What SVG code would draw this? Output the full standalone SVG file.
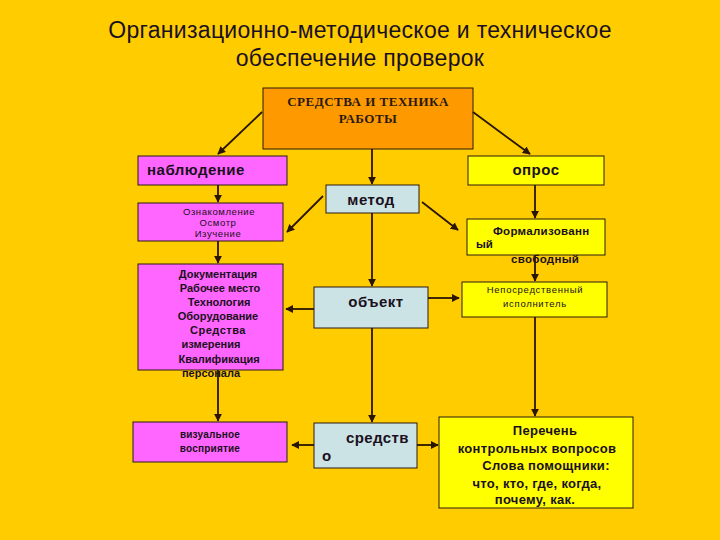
<svg xmlns="http://www.w3.org/2000/svg" width="720" height="540" viewBox="0 0 720 540">
<defs>
<marker id="ah" viewBox="0 0 10 10" refX="9" refY="5" markerWidth="8" markerHeight="8" orient="auto" markerUnits="userSpaceOnUse">
<path d="M0,0 L10,5 L0,10 z" fill="#2a1500"/>
</marker>
<style>
.bx{stroke:#2a1a10;stroke-width:1}
.or{fill:#FF9900}.mg{fill:#FF66FF}.ye{fill:#FFFF00}.bl{fill:#CCE3E6}
.t{font-family:"Liberation Sans",Arial,sans-serif;fill:#1a1020}
.b{font-weight:bold}
.c{text-anchor:middle}
.ser{font-family:"Liberation Serif","Times New Roman",serif;font-weight:bold;fill:#2a1a10}
.cn line{stroke:#2a1500;stroke-width:1.8;marker-end:url(#ah)}
</style>
</defs>
<rect width="720" height="540" fill="#FFCC00"/>
<g id="title">
<text class="t c" x="360" y="38" font-size="23" letter-spacing="0.3">Организационно-методическое и техническое</text>
<text class="t c" x="360" y="66" font-size="23" letter-spacing="0.3">обеспечение проверок</text>
</g>
<g id="top">
<rect class="bx or" x="263" y="88" width="210" height="61"/>
<text class="ser c" x="368" y="106" font-size="13" letter-spacing="0.5">СРЕДСТВА И ТЕХНИКА</text>
<text class="ser c" x="368" y="123" font-size="13" letter-spacing="0.5">РАБОТЫ</text>
</g>
<g id="nabl">
<rect class="bx mg" x="138" y="156" width="149" height="29"/>
<text class="t b" x="147" y="175" font-size="15" letter-spacing="0.5">наблюдение</text>
</g>
<g id="opros">
<rect class="bx ye" x="468" y="156" width="136" height="29"/>
<text class="t b c" x="536" y="175" font-size="15" letter-spacing="0.5">опрос</text>
</g>
<g id="metod">
<rect class="bx bl" x="326" y="185" width="93" height="28"/>
<text class="t b c" x="371" y="205" font-size="15" letter-spacing="0.5">метод</text>
</g>
<g id="oznak">
<rect class="bx mg" x="138" y="203" width="145" height="38"/>
<text class="t c" x="219" y="215" font-size="9.5" letter-spacing="0.6">Ознакомление</text>
<text class="t c" x="218" y="226" font-size="9.5" letter-spacing="0.6">Осмотр</text>
<text class="t c" x="218" y="237" font-size="9.5" letter-spacing="0.6">Изучение</text>
</g>
<g id="formal">
<rect class="bx ye" x="467" y="219" width="138" height="36"/>
<text class="t b" x="493" y="235" font-size="11.5" letter-spacing="0.3">Формализованн</text>
<text class="t b" x="476" y="248" font-size="11.5">ый</text>
<text class="t b" x="511" y="263" font-size="11.5" letter-spacing="0.3">свободный</text>
</g>
<g id="dokum">
<rect class="bx mg" x="138" y="264" width="145" height="106"/>
<text class="t b c" font-size="11" x="218" y="278">Документация</text>
<text class="t b c" font-size="11" x="220" y="292">Рабочее место</text>
<text class="t b c" font-size="11" x="219" y="306">Технология</text>
<text class="t b c" font-size="11" x="218" y="320">Оборудование</text>
<text class="t b c" font-size="11" x="218" y="334" letter-spacing="0.5">Средства</text>
<text class="t b c" font-size="11" x="211" y="348">измерения</text>
<text class="t b c" font-size="11" x="219" y="363">Квалификация</text>
<text class="t b c" font-size="11" x="211" y="377">персонала</text>
</g>
<g id="obekt">
<rect class="bx bl" x="314" y="287" width="114" height="41"/>
<text class="t b c" x="376" y="307" font-size="15" letter-spacing="0.5">объект</text>
</g>
<g id="neposr">
<rect class="bx ye" x="462" y="282" width="145" height="35"/>
<text class="t c" x="535" y="293" font-size="9.5" letter-spacing="0.7">Непосредственный</text>
<text class="t c" x="535" y="307" font-size="9.5" letter-spacing="0.7">исполнитель</text>
</g>
<g id="vizual">
<rect class="bx mg" x="133" y="422" width="154" height="40"/>
<text class="t b c" x="210" y="438" font-size="10" letter-spacing="0.2">визуальное</text>
<text class="t b c" x="210" y="452" font-size="10" letter-spacing="0.2">восприятие</text>
</g>
<g id="sredstvo">
<rect class="bx bl" x="314" y="423" width="103" height="45"/>
<text class="t b" x="346" y="443" font-size="15" letter-spacing="0.4">средств</text>
<text class="t b" x="322" y="461" font-size="15">о</text>
</g>
<g id="perechen">
<rect class="bx ye" x="439" y="417" width="194" height="91"/>
<text class="t b c" font-size="13" x="545" y="435" letter-spacing="0.3">Перечень</text>
<text class="t b c" font-size="13" x="537" y="453" letter-spacing="0.3">контрольных вопросов</text>
<text class="t b c" font-size="13" x="546" y="470" letter-spacing="0.3">Слова помощники:</text>
<text class="t b c" font-size="13" x="537" y="488" letter-spacing="0.3">что, кто, где, когда,</text>
<text class="t b c" font-size="13" x="535" y="504" letter-spacing="0.3">почему, как.</text>
</g>
<g id="connectors" class="cn">
<line x1="262" y1="112" x2="218" y2="154"/>
<line x1="473" y1="112" x2="530" y2="154"/>
<line x1="372" y1="149" x2="372" y2="184"/>
<line x1="218" y1="185" x2="218" y2="202"/>
<line x1="218" y1="241" x2="218" y2="263"/>
<line x1="218" y1="370" x2="218" y2="421"/>
<line x1="323" y1="196" x2="287" y2="232"/>
<line x1="372" y1="213" x2="372" y2="286"/>
<line x1="314" y1="309" x2="286" y2="309"/>
<line x1="372" y1="328" x2="372" y2="422"/>
<line x1="422" y1="202" x2="458" y2="230"/>
<line x1="535" y1="185" x2="535" y2="218"/>
<line x1="535" y1="255" x2="535" y2="281"/>
<line x1="428" y1="298" x2="459" y2="298"/>
<line x1="535" y1="317" x2="535" y2="416"/>
<line x1="314" y1="445" x2="292" y2="445"/>
<line x1="417" y1="445" x2="438" y2="445"/>
</g>
</svg>
